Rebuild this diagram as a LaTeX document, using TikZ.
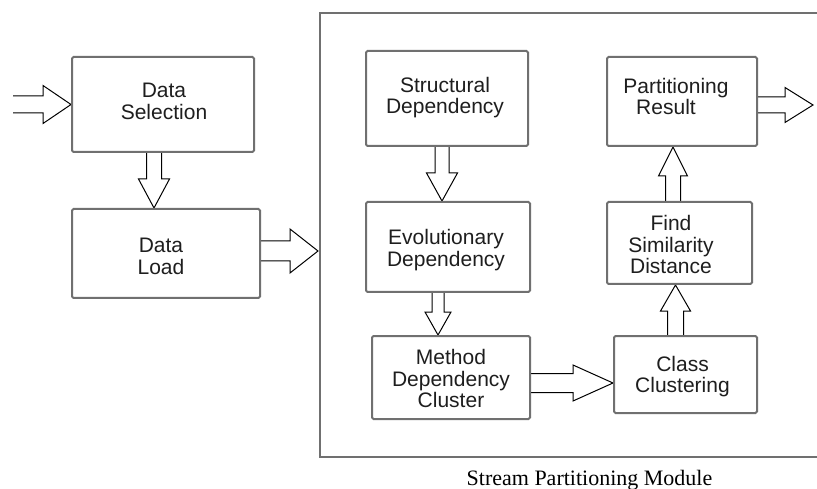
\documentclass[tikz,border=0pt]{standalone}
\usepackage{fontspec}
\setmainfont{Liberation Sans}
\newfontfamily\capfont{Liberation Serif}
\usetikzlibrary{calc}
\pgfdeclarelayer{bg}
\pgfsetlayers{bg,main}
\definecolor{boxgray}{RGB}{112,112,112}
\definecolor{txtcol}{RGB}{30,30,30}
\tikzset{
  box/.style={draw=boxgray, line width=2pt, rounded corners=1.5pt, inner sep=0pt,
    align=center, font=\fontsize{21}{21}\selectfont, text=txtcol},
  blk/.style={draw=black, line width=1pt, fill=white, line join=miter},
  frameline/.style={draw=boxgray, line width=2pt},
}
% box text: extra right space (shifts left by half), visual raise, lines
\newcommand\bt[3]{\raisebox{#2}[\height][\depth]{\begin{tabular}{@{}c@{}}#3\end{tabular}}\hspace*{#1}}
% from, to, shaft half-width, head half-width, head length
\newcommand\blockarrow[5]{%
  \coordinate (bahead) at ($(#2)!#5!(#1)$);
  \draw[blk] ($(#1)!#3!90:(#2)$) -- ($(bahead)!#3!-90:(#1)$) -- ($(bahead)!#4!-90:(#1)$)
    -- (#2) -- ($(bahead)!#4!90:(#1)$) -- ($(bahead)!#3!90:(#1)$) -- ($(#1)!#3!-90:(#2)$);
}
\begin{document}
\begin{tikzpicture}[x=1pt,y=-1pt]
\useasboundingbox (0,0) rectangle (817,489);

% outer module frame (right side runs off the picture)
\draw[frameline] (818,13) -- (320,13) -- (320,457) -- (818,457);

% boxes
\node[box, minimum width=182pt, minimum height=95pt] (ds)  at (163,104.5) {\bt{-2pt}{0pt}{Data\\Selection}};
\node[box, minimum width=188pt, minimum height=89pt] (dl)  at (166,253.5) {\bt{10pt}{-6pt}{Data\\Load}};
\node[box, minimum width=162pt, minimum height=95pt] (sd)  at (447,98.5)  {\bt{4pt}{0pt}{Structural\\Dependency}};
\node[box, minimum width=164pt, minimum height=90pt] (ed)  at (448,247)   {\bt{4pt}{-4.3pt}{Evolutionary\\Dependency}};
\node[box, minimum width=158pt, minimum height=83pt] (mdc) at (451,377.5) {\bt{0pt}{-4.3pt}{Method\\Dependency\\Cluster}};
\node[box, minimum width=150pt, minimum height=89pt] (pr)  at (682,101.5) {\bt{12pt}{1.9pt}{Partitioning\\Result\hspace*{20pt}}};
\node[box, minimum width=145pt, minimum height=82pt] (fsd) at (679.5,243) {\bt{17pt}{-4.8pt}{Find\\Similarity\\Distance}};
\node[box, minimum width=143pt, minimum height=77pt] (cc)  at (685.5,374.5) {\bt{6pt}{-2.8pt}{Class\\Clustering}};

\coordinate (in)  at (13,104.5);
\coordinate (fl)  at (318,251);
\coordinate (out) at (813,105);

\begin{pgfonlayer}{bg}
\fill[white] (0,0) rectangle (817,489);
\blockarrow{in}{ds.west}{8.5pt}{19pt}{28pt}
\blockarrow{[xshift=-9pt]ds.south}{[xshift=-12pt]dl.north}{7.5pt}{15.5pt}{29pt}
\blockarrow{[yshift=2.5pt]dl.east}{fl}{10pt}{22pt}{28pt}
\blockarrow{[xshift=-5pt]sd.south}{[xshift=-6pt]ed.north}{7pt}{15.5pt}{28pt}
\blockarrow{[xshift=-10pt]ed.south}{[xshift=-13pt]mdc.north}{6pt}{13pt}{23pt}
\blockarrow{[yshift=-5.5pt]mdc.east}{[yshift=-8.5pt]cc.west}{9.5pt}{18pt}{40pt}
\blockarrow{[xshift=-10pt]cc.north}{[xshift=-4pt]fsd.south}{8pt}{15pt}{26pt}
\blockarrow{[xshift=-6.5pt]fsd.north}{[xshift=-9pt]pr.south}{7.5pt}{14.5pt}{29pt}
\blockarrow{[yshift=-3.5pt]pr.east}{out}{8pt}{17.5pt}{28pt}
\end{pgfonlayer}

\node[font=\capfont\fontsize{22}{22}\selectfont, anchor=base, inner sep=0pt] (cap) at (589.5,485) {Stream Partitioning Module};
\end{tikzpicture}
\end{document}
